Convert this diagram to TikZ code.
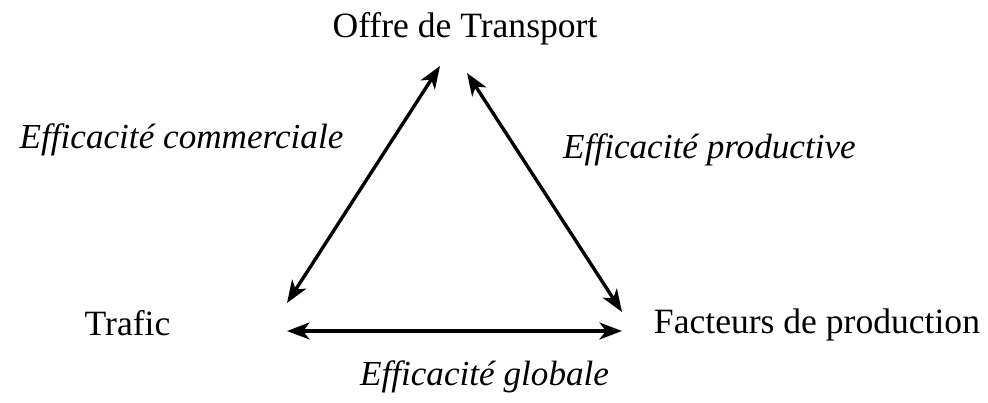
\documentclass[tikz,border=0pt]{standalone}
\usepackage{fontspec}
\setmainfont{Liberation Serif}
\usetikzlibrary{arrows.meta}

\begin{document}
\begin{tikzpicture}[x=0.025cm, y=-0.025cm,
        arr/.style={{Stealth[length=16pt,width=12pt,inset=4.5pt]}-{Stealth[length=16pt,width=12pt,inset=4.5pt]}, line width=2.4pt}]
        \useasboundingbox (0, 0) rectangle (988, 402);
        \begin{scope}[every node/.style={inner sep=0pt, anchor=base, font=\fontsize{25.3}{30}\selectfont}]
            \node (offre) at (465, 37) {Offre de Transport};
            \node (trafic) at (127.5, 335) {Trafic};
            \node (facteurs) at (817, 333) {Facteurs de production};
        \end{scope}
        \begin{scope}[every node/.style={inner sep=0pt, anchor=base, font=\fontsize{25}{30}\selectfont\itshape}]
            \node (commerciale) at (181.5, 148) {Efficacité commerciale};
            \node (productive) at (709.5, 158) {Efficacité productive};
            \node (globale) at (484.5, 385) {Efficacité globale};
        \end{scope}
        \coordinate (offre-l) at (440, 66);
        \coordinate (offre-r) at (467, 73);
        \coordinate (trafic-n) at (287, 303);
        \coordinate (trafic-e) at (287, 331);
        \coordinate (facteurs-n) at (622, 312);
        \coordinate (facteurs-w) at (622, 331);
        \draw [arr] (trafic-n) -- (offre-l);
        \draw [arr] (offre-r) -- (facteurs-n);
        \draw [arr] (trafic-e) -- (facteurs-w);
    \end{tikzpicture}
\end{document}
